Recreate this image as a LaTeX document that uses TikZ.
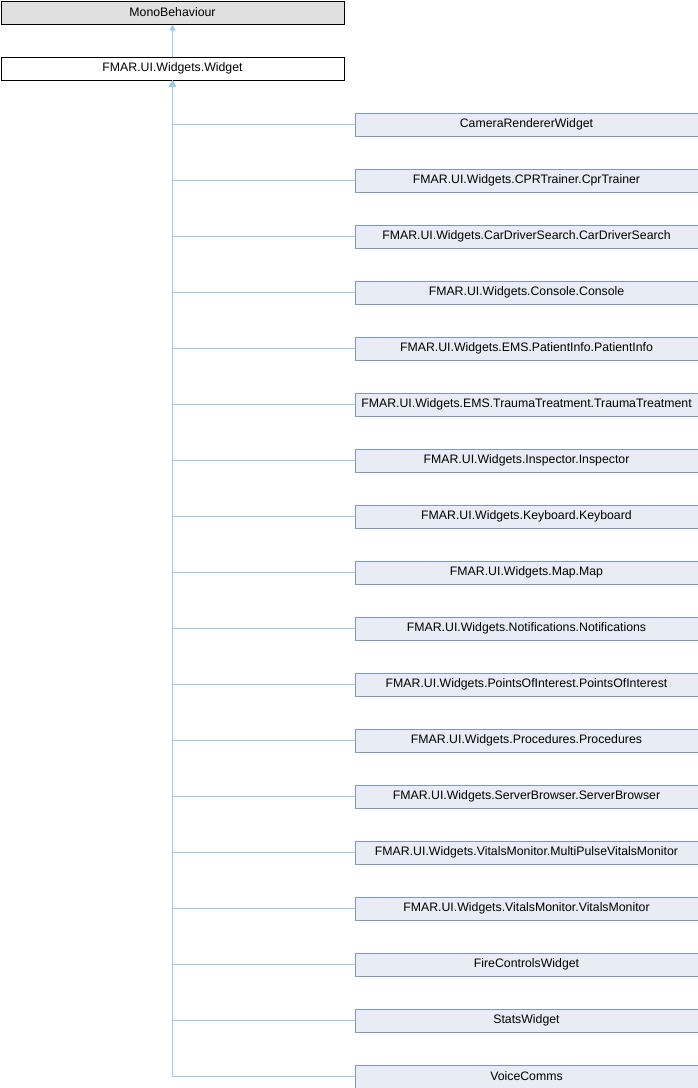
\documentclass[tikz,border=0pt]{standalone}
\usepackage{fontspec}
\setmainfont{Liberation Sans}
\usetikzlibrary{arrows.meta}
\definecolor{edgeblue}{HTML}{9BCDEB}
\definecolor{childfill}{HTML}{E8ECF5}
\definecolor{childline}{HTML}{7F96C8}
\definecolor{extfill}{HTML}{E0E0E0}
\begin{document}
\begin{tikzpicture}[x=1pt, y=-1pt,
    box/.style={draw, rectangle, line width=1pt, minimum width=343pt, minimum height=23pt,
        inner sep=0pt, anchor=north west, font=\fontsize{12.3}{14}\selectfont},
    child/.style={box, draw=childline, fill=childfill},
    edge/.style={draw=edgeblue, line width=1pt, -{Triangle[width=6pt,length=6pt]}}]
    \useasboundingbox (0,0) rectangle (698,1088);
    \node[box, fill=extfill] (mono) at (0.5,0.5) {MonoBehaviour};
    \node[box, fill=white] (widget) at (0.5,56.5) {FMAR.UI.Widgets.Widget};
    \draw[edge] (widget) -- (mono);
    \foreach \name [count=\i from 0] in {CameraRendererWidget,
        FMAR.UI.Widgets.CPRTrainer.CprTrainer,
        FMAR.UI.Widgets.CarDriverSearch.CarDriverSearch,
        FMAR.UI.Widgets.Console.Console,
        FMAR.UI.Widgets.EMS.PatientInfo.PatientInfo,
        FMAR.UI.Widgets.EMS.TraumaTreatment.TraumaTreatment,
        FMAR.UI.Widgets.Inspector.Inspector,
        FMAR.UI.Widgets.Keyboard.Keyboard,
        FMAR.UI.Widgets.Map.Map,
        FMAR.UI.Widgets.Notifications.Notifications,
        FMAR.UI.Widgets.PointsOfInterest.PointsOfInterest,
        FMAR.UI.Widgets.Procedures.Procedures,
        FMAR.UI.Widgets.ServerBrowser.ServerBrowser,
        FMAR.UI.Widgets.VitalsMonitor.MultiPulseVitalsMonitor,
        FMAR.UI.Widgets.VitalsMonitor.VitalsMonitor,
        FireControlsWidget,
        StatsWidget,
        VoiceComms}
    {
        \node[child] (c\i) at (354.5, {112.5+56*\i}) {\name};
        \draw[edge] (c\i.west) -| (widget.south);
    }
\end{tikzpicture}
\end{document}
